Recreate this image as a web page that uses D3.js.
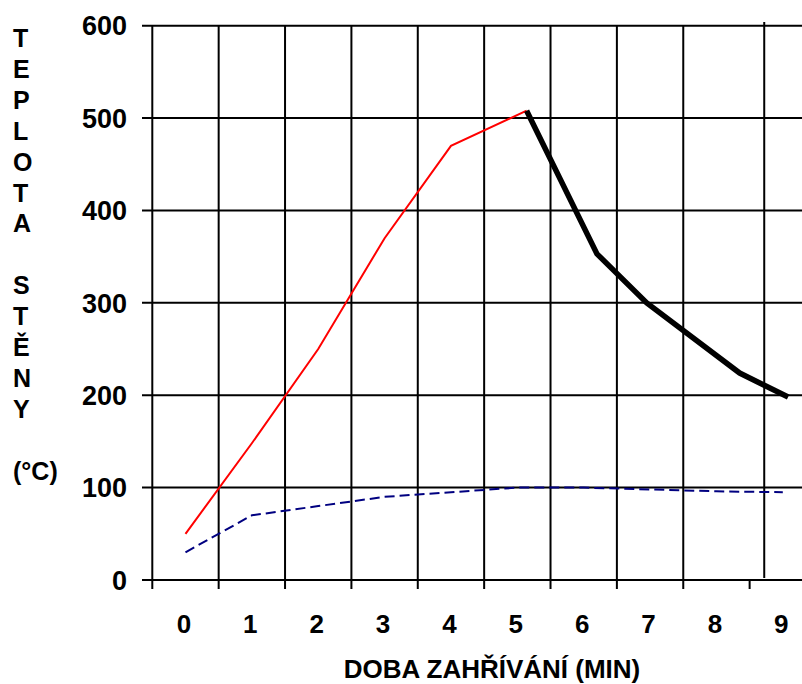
<!DOCTYPE html>
<html>
<head>
<meta charset="utf-8">
<script src="https://cdn.jsdelivr.net/npm/d3@7"></script>
<style>
  body { margin: 0; background: #fff; }
  svg text { font-family: "Liberation Sans", Arial, sans-serif; font-weight: bold; fill: #000; }
</style>
</head>
<body>
<svg id="chart" width="802" height="684"></svg>
<script>
const width = 802;
const height = 684;

// minutes shown on the category axis
const minutes = [0, 1, 2, 3, 4, 5, 6, 7, 8, 9];
const tempTicks = [0, 100, 200, 300, 400, 500, 600];

// heating (red)
const heatTimes = [0, 1, 2, 3, 4, 5.14];
const heatTemps = [50, 148, 250, 370, 470, 508];

// cooling (thick black)
const coolTimes = [5.14, 6.2, 6.95, 8.35, 9.08];
const coolTemps = [508, 353, 300, 224, 198];

// dashed blue
const lowTimes = [0, 1, 2, 3, 4, 5, 6, 7, 8, 9];
const lowTemps = [30, 70, 80, 90, 95, 100, 100, 98, 96, 95];

// stray vertical grid line near the end of the axis
const strayLine = 8.72;

const yLabel = ["T", "E", "P", "L", "O", "T", "A", "", "S", "T", "Ě", "N", "Y", "", "(°C)"];

const svg = d3.select("#chart");

const x = d3.scaleLinear().domain([-0.5, 9.5]).range([152.3, 816]);
const y = d3.scaleLinear().domain([0, 600]).range([580, 25.7]);

// horizontal grid + y ticks
svg.append("g")
    .selectAll("line")
    .data(tempTicks)
    .enter()
    .append("line")
    .attr("x1", 142)
    .attr("x2", width)
    .attr("y1", d => y(d))
    .attr("y2", d => y(d))
    .attr("stroke", "#000")
    .attr("stroke-width", 2);

// vertical grid (between categories), the one at 8.5 is missing in the original
const bounds = d3.range(-0.5, 9, 1);
svg.append("g")
    .selectAll("line")
    .data(bounds.filter(b => b < 8))
    .enter()
    .append("line")
    .attr("x1", d => x(d))
    .attr("x2", d => x(d))
    .attr("y1", y(600))
    .attr("y2", 589)
    .attr("stroke", "#000")
    .attr("stroke-width", 2);

// tick at 8.5 only
svg.append("line")
    .attr("x1", x(8.5)).attr("x2", x(8.5))
    .attr("y1", 579).attr("y2", 589)
    .attr("stroke", "#000").attr("stroke-width", 2);

svg.append("line")
    .attr("x1", x(strayLine)).attr("x2", x(strayLine))
    .attr("y1", 22).attr("y2", 578)
    .attr("stroke", "#000").attr("stroke-width", 2);

// y tick labels
svg.append("g")
    .selectAll("text")
    .data(tempTicks)
    .enter()
    .append("text")
    .attr("x", 127)
    .attr("y", d => y(d))
    .attr("dy", "0.36em")
    .attr("text-anchor", "end")
    .attr("font-size", 27)
    .text(d => d);

// x tick labels
svg.append("g")
    .selectAll("text")
    .data(minutes)
    .enter()
    .append("text")
    .attr("x", d => x(d) - 1.5)
    .attr("y", 633)
    .attr("text-anchor", "middle")
    .attr("font-size", 26)
    .text(d => d);

// x title
svg.append("text")
    .attr("x", 492)
    .attr("y", 678)
    .attr("text-anchor", "middle")
    .attr("font-size", 26)
    .text("DOBA ZAHŘÍVÁNÍ (MIN)");

// y title, one letter per line
svg.append("g")
    .selectAll("text")
    .data(yLabel)
    .enter()
    .append("text")
    .attr("x", 13)
    .attr("y", (d, i) => 47 + i * 30.9)
    .attr("font-size", 25)
    .text(d => d);

const line = d3.line()
    .x(d => x(d[0]))
    .y(d => y(d[1]));

svg.append("path")
    .attr("d", line(d3.zip(lowTimes, lowTemps)))
    .attr("fill", "none")
    .attr("stroke", "#000080")
    .attr("stroke-width", 2)
    .attr("stroke-dasharray", "10,5");

svg.append("path")
    .attr("d", line(d3.zip(heatTimes, heatTemps)))
    .attr("fill", "none")
    .attr("stroke", "#ff0000")
    .attr("stroke-width", 2);

svg.append("path")
    .attr("d", line(d3.zip(coolTimes, coolTemps)))
    .attr("fill", "none")
    .attr("stroke", "#000")
    .attr("stroke-width", 5.5);
</script>
</body>
</html>
